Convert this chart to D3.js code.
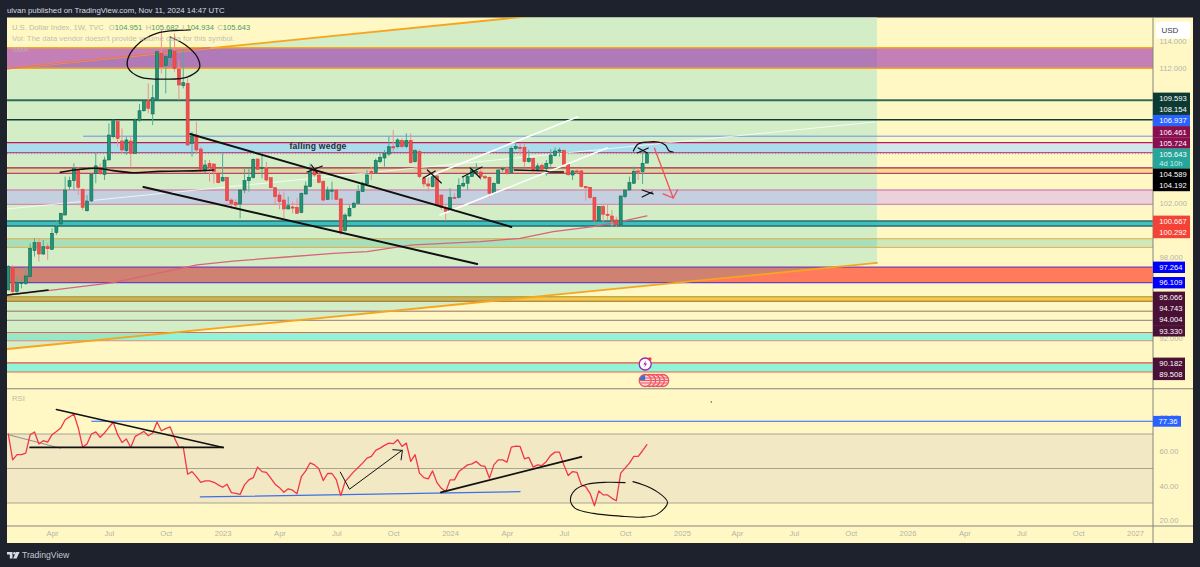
<!DOCTYPE html>
<html>
<head>
<meta charset="utf-8">
<script src="https://d3js.org/d3.v7.min.js"></script>
<style>
    html, body { margin: 0; padding: 0; background: #1e222d; overflow: hidden; }
    svg { display: block; font-family: "Liberation Sans", Arial, sans-serif; }
    .axis path, .axis line { display: none; }
    .axis text { fill: #b4b4a6; font-size: 7.6px; font-family: "Liberation Sans", Arial, sans-serif; }
</style>
</head>
<body>
<svg id="chart" width="1200" height="567"></svg>
<script>
// weekly candles, first bar is the week of 2022-01-24
const firstWeek = Date.UTC(2022, 0, 24);
const opens = [
    95.57,97.25,95.45,96.06,96.06,96.56,98.48,99.07,98.23,98.77,
    98.58,99.81,100.45,101.11,103.21,103.65,104.49,103.01,101.43,102.15,
    104.19,104.64,104.12,105.18,106.90,108.01,106.58,105.87,106.58,105.67,
    108.13,108.82,109.56,108.58,109.66,113.06,112.15,112.76,113.23,111.90,
    110.67,110.84,106.41,107.02,105.99,104.44,104.93,104.88,104.19,103.63,
    103.90,102.22,102.03,101.93,102.96,103.65,103.87,105.25,104.56,104.56,
    103.87,103.13,102.59,102.22,101.56,101.71,101.68,101.29,102.67,103.21,
    104.49,104.07,103.58,102.27,102.91,102.96,102.30,99.96,101.04,101.68,
    101.98,102.84,103.41,104.32,104.24,105.05,105.33,105.62,106.16,106.16,
    106.61,106.17,106.61,105.06,105.80,103.83,103.41,103.21,104.00,102.59,
    101.66,101.43,102.42,102.42,103.26,103.46,103.95,104.27,104.29,103.95,
    103.90,102.72,103.46,104.49,104.49,104.24,106.04,106.12,106.12,105.06,
    105.30,104.44,104.79,104.56,104.93,105.50,105.87,105.87,104.86,104.07,
    104.37,104.37,103.21,103.16,102.40,100.70,101.73,101.17,101.04,100.75,
    100.38,102.47,102.96,103.46,104.37,104.32,104.951
];
const highs = [
    97.42,97.42,96.56,96.43,97.30,99.02,99.39,99.39,99.27,99.02,
    100.13,100.75,101.24,103.95,103.95,104.93,104.64,103.09,102.59,104.19,
    105.72,104.93,105.43,107.89,108.18,108.01,107.52,106.90,106.90,108.26,
    109.32,109.61,110.84,110.72,113.18,114.78,112.94,114.17,114.54,112.57,
    113.31,111.21,107.27,108.01,106.16,105.18,105.18,104.93,104.32,105.67,
    103.90,102.35,102.27,103.01,104.56,104.56,105.30,105.30,105.55,105.05,
    103.87,103.16,102.84,102.84,102.47,102.10,102.35,102.76,103.58,104.93,
    104.69,104.19,103.70,103.21,103.58,103.01,102.35,101.24,101.85,102.10,
    103.33,103.58,104.44,104.69,105.30,105.67,105.92,106.90,107.40,106.78,
    106.78,107.15,107.15,105.97,105.97,104.00,104.07,104.19,104.19,102.59,
    101.90,103.09,102.72,103.83,103.95,104.19,104.69,104.93,104.49,104.07,
    103.95,103.51,104.49,104.69,104.74,106.17,106.46,106.41,106.41,105.92,
    105.35,104.93,104.93,105.18,105.97,106.12,106.09,105.97,104.93,104.44,
    104.56,104.44,103.26,103.21,102.47,101.78,101.85,101.85,101.48,100.99,
    102.52,103.01,103.95,104.69,104.60,105.92,105.682
];
const lows = [
    95.57,95.20,95.33,95.69,95.94,96.43,98.04,97.67,98.16,97.79,
    98.53,99.64,100.38,101.11,102.96,102.96,102.59,101.48,101.36,102.10,
    103.46,104.07,103.70,105.18,106.78,106.16,105.67,105.55,104.69,105.67,
    108.01,108.75,108.63,107.76,109.61,111.58,110.10,112.20,111.70,109.61,
    110.47,106.24,105.42,105.67,104.27,104.19,103.58,103.45,103.46,103.58,
    102.10,101.60,101.60,100.87,102.72,102.84,103.82,104.49,103.82,103.58,
    103.08,101.93,101.53,100.87,101.53,101.24,101.19,101.24,102.59,103.16,
    103.95,103.46,102.10,102.22,102.22,102.22,99.64,99.88,100.99,101.61,
    101.93,102.84,103.33,103.70,104.19,104.93,104.69,105.47,105.79,106.04,
    106.04,106.04,104.93,104.98,103.83,103.16,102.84,103.16,101.73,101.48,
    100.70,101.36,102.35,102.35,103.16,102.96,103.95,104.19,103.70,103.75,
    102.42,102.67,103.41,104.32,104.07,104.19,105.92,105.55,104.64,104.98,
    104.19,104.37,104.32,104.02,104.69,105.43,105.43,104.81,104.02,103.70,
    104.14,103.16,102.17,102.27,100.62,100.62,100.62,100.75,100.25,100.25,
    100.33,102.35,102.91,103.41,103.70,103.41,104.934
];
const closes = [
    97.30,95.45,96.11,96.14,96.61,98.65,99.07,98.23,98.77,98.62,
    99.76,100.25,101.24,102.96,103.65,104.56,103.16,101.68,102.15,104.12,
    104.74,104.19,105.18,107.02,108.08,106.78,105.92,106.66,105.67,108.13,
    108.82,109.56,109.00,109.78,113.18,112.07,112.81,113.31,111.95,110.72,
    110.89,106.29,106.95,105.92,104.51,104.81,104.61,104.32,103.50,103.90,
    102.17,101.98,101.85,102.96,103.65,103.90,105.23,104.49,104.64,103.70,
    103.13,102.47,102.10,101.56,101.80,101.66,101.24,102.72,103.26,104.32,
    104.07,103.53,102.22,102.96,102.96,102.27,99.88,101.11,101.61,101.98,
    102.84,103.46,104.07,104.27,105.13,105.38,105.67,106.16,106.09,106.66,
    106.17,106.61,104.98,105.87,103.95,103.41,103.26,104.00,101.85,101.68,
    101.36,102.40,102.37,103.31,103.46,103.95,104.44,104.34,103.95,103.85,
    102.72,103.46,104.44,104.56,104.24,106.04,106.17,106.07,105.06,105.30,
    104.44,104.74,104.49,104.93,105.55,105.84,105.92,104.86,104.09,104.37,
    104.32,103.21,103.13,102.40,100.70,101.73,101.17,101.09,100.70,100.38,
    102.52,102.96,103.51,104.34,104.32,104.93,105.643
];
const rsiValues = [
    70.0,55.0,58.0,58.0,58.9,69.6,71.2,64.2,66.1,65.3,
    69.6,71.5,73.5,78.3,79.9,81.6,73.5,62.4,64.2,70.0,
    71.2,68.1,70.6,73.9,76.8,69.6,65.1,67.1,62.2,68.6,
    70.0,71.5,69.0,70.6,77.0,71.9,73.1,74.1,67.7,62.2,
    62.4,46.7,48.2,45.3,42.0,42.8,42.8,42.0,40.5,39.1,
    40.9,36.0,35.6,35.0,40.5,43.4,44.7,50.8,48.2,47.8,
    44.4,40.9,38.9,36.2,38.2,37.4,35.4,45.3,48.6,53.3,
    52.1,49.8,43.0,47.1,47.1,43.4,34.3,42.4,45.3,48.2,
    50.6,53.1,56.0,57.0,60.5,61.8,63.4,64.7,64.4,66.7,
    62.8,64.7,54.1,58.0,47.3,44.7,44.0,48.6,41.8,38.5,
    36.6,43.4,43.4,48.2,50.2,52.1,52.7,54.1,51.7,51.2,
    44.4,52.1,55.0,55.0,53.7,62.4,63.0,62.8,55.6,56.4,
    50.8,52.1,51.7,54.1,57.6,59.5,59.5,52.1,45.9,48.2,
    47.8,40.5,39.5,35.6,28.4,37.0,34.7,34.7,32.7,31.3,
    47.3,50.2,53.1,57.0,57.0,60.3,63.8
];

// SMA read at a few weeks: [week, price]
const smaPoints = [[-0.2,95.2],[9.1,95.52],[24,96.11],[34,96.8],[43.2,97.42],[51.4,97.71],[62.9,97.99],[74.3,98.28],[82,98.4],[89.6,98.77],[92.6,98.9],[107.9,99.14],[117,99.39],[124.6,99.88],[133.7,100.25],[139.9,100.62],[146,101.04]];

// horizontal zones and levels
const bandTops = [113.48, 106.461, 104.589, 102.96, 100.667, 99.36, 97.264, 95.066, 92.43, 90.182];
const bandBottoms = [111.96, 105.724, 104.192, 101.9, 100.292, 98.72, 96.109, 94.743, 91.82, 89.508];
const levelValues = [109.593, 108.154, 94.004, 93.33];
const blueLevel = 106.937;
const lastPrice = 105.643;

// price tags on the axis
const tagValues = ["109.593","108.154","106.937","106.461","105.724","105.643","4d 10h","104.589","104.192","100.667","100.292","97.264","96.109","95.066","94.743","94.004","93.330","90.182","89.508"];
const priceTicks = [114, 112, 110, 102, 98, 92];
const rsiTicks = [80, 60, 40, 20];
const rsiLevels = [70, 50, 30];
const rsiBlueLevel = 77.36;

const timeTicks = ["2022-04-04","2022-07-04","2022-10-03","2023-01-02","2023-04-03","2023-07-03","2023-10-02","2024-01-01","2024-04-01","2024-07-01","2024-10-07","2025-01-06","2025-04-04","2025-07-04","2025-10-03","2026-01-02","2026-04-03","2026-07-03","2026-10-02","2027-01-01"];
const timeLabels = ["Apr","Jul","Oct","2023","Apr","Jul","Oct","2024","Apr","Jul","Oct","2025","Apr","Jul","Oct","2026","Apr","Jul","Oct","2027"];

// hand drawn stuff, all [week, price]
const channelTop = [[-0.2,111.94],[198.6,118.37]];
const channelBottom = [[-0.2,91.21],[198.6,97.57]];
const channelOverPurple = [[-0.2,111.94],[46,113.48]];
const circleTop = [[41.6,114.79],[34.1,114.56],[30.2,113.9],[27.4,112.72],[27.4,111.98],[30.2,111.31],[36.3,111.16],[40.9,111.31],[43.7,111.98],[43.2,112.79],[40.5,113.68],[37,114.27]];
const wedgeUpper = [[41.6,107.1],[115,100.23]];
const wedgeLower = [[30.9,103.18],[107.2,97.49]];
const wavyLine = [[11.9,104.27],[16.5,104.49],[20.3,104.57],[24,104.39],[28.6,104.24],[34.7,104.34],[43.9,104.39],[46.9,104.44]];
const startLine = [[-0.2,95.2],[9.1,95.57]];
const supportLine = [[115.7,104.44],[122.7,104.37],[123.9,104.29],[126.9,104.29]];
const crosses = [
    [[68.3,104.29],[71.8,104.73]], [[69.3,104.81],[70.6,104.22]],
    [[94.9,103.85],[97.6,104.37]], [[95.8,104.44],[99,103.48]],
    [[103.8,103.92],[108.3,104.66]], [[105.6,104.59],[107.9,103.85]],
    [[143.8,105.7],[146.3,106.07]], [[144,106.07],[146.1,105.7]],
    [[144.9,102.96],[147.4,102.67]], [[144.9,102.44],[147.2,102.81]]
];
const topArc = [[142.9,105.84],[144,106.36],[146.1,106.51],[148.6,106.51],[150.2,106.29],[151.1,105.84],[152,105.77]];
const redArrow = [[147.7,106.06],[152,102.37]];
const redArrowHead = [[149.7,102.67],[152,102.37],[153,102.96]];
const whiteLower = [[98.7,101.11],[136.9,106.07]];
const whiteUpper = [[95.8,103.92],[130.1,108.36]];
const whiteLong = [[-0.2,101.56],[198.2,107.99]];

// same thing for the RSI pane: [week, rsi]
const rsiTriTop = [[11,84.2],[49.1,62.2]];
const rsiTriBottom = [[5,62.2],[49.1,62.2]];
const rsiThin = [[0,69.6],[11.9,61.8]];
const rsiBlueLow = [[43.9,33.5],[117,36.6]];
const rsiArrow = [[75.9,47.9],[78,38],[90,60.5]];
const rsiArrowHead = [[87.9,60.9],[90.1,60.5],[89.8,55]];
const rsiTrend = [[98.9,36.2],[131,56.8]];
const rsiOvalA = [[141,41.8],[136.9,42],[132.3,40.9],[129.6,37.6],[128.5,31.7],[129.6,26.9],[133.8,24],[139.9,22.4],[145.2,21.8],[148.3,23.4],[150.7,30.4],[148.3,36.6],[145.2,40.5],[142.8,42.4]];
const rsiDot = [160.7, 88.6];

const lightningWeek = 145.6;
const flagWeeks = [149.6, 148.6, 147.6, 146.6, 145.6];

// colours and layout
const YELLOW = '#fff8c5';
const CHANNEL = '#d3edc7';
const bandStyles = [
    { out: '#c47fb6', inn: '#b07ab8', top: '#f5a623', bottom: '#f5a623', w: 1.5 },
    { out: '#d2e5ea', inn: '#abdcec', top: '#c2185b', bottom: '#c2478f', w: 1.2 },
    { out: '#f9d98e', inn: '#d8d7a0', top: '#a8234a', bottom: '#c04070', w: 1.2 },
    { out: '#ecd0da', inn: '#c4cfe0', top: '#d08fb0', bottom: '#d08fb0', w: 1.4 },
    { out: '#45bfc2', inn: '#3cbfc0', top: '#2c6e68', bottom: '#2c6e68', w: 1.5 },
    { out: '#d0e8b8', inn: '#a8dfb8', top: '#e0b050', bottom: '#e0b050', w: 1 },
    { out: '#ff7b5c', inn: '#cf8272', top: '#7a3fb0', bottom: '#6a3fc0', w: 1.2 },
    { out: '#f5c84a', inn: '#c9b45c', top: '#a8902a', bottom: '#9c6a2a', w: 1.1 },
    { out: '#90f5d8', inn: '#98e8c8', top: '#f06050', bottom: '#e08a80', w: 1.2 },
    { out: '#90f5d8', inn: '#90f0d0', top: '#f05040', bottom: '#f06050', w: 1.2 }
];
const levelStyles = [
    { color: '#2e6b5a', w: 1.8 }, { color: '#123a30', w: 1.4 },
    { color: '#9a7060', w: 1 }, { color: '#8e7a80', w: 1 }
];
const tagColors = ['#0d3b33','#0d3b33','#2962ff','#880e4f','#880e4f','#26a69a','#26a69a','#000','#000','#f44336','#f44336','#0000ff','#0000ff','#4a1035','#4a1035','#4a1035','#4a1035','#4a1035','#4a1035'];
const tagY = [98.3,109.5,120.6,131.8,143,154.2,163.6,174.3,185.5,221.3,232.5,267.3,282.7,297.3,308.4,319.6,330.8,363.3,374.4];
const paneLeft = 7, paneRight = 1153, chartRight = 1193, paneTop = 17.5, priceBottom = 388.7, rsiBottom = 526, chartBottom = 543;

const svg = d3.select('#chart');
const x = d3.scaleUtc().domain([new Date(Date.UTC(2023, 0, 1)), new Date(Date.UTC(2027, 0, 1))]).range([222, 1135]);
const y = d3.scaleLinear().domain([112, 102]).range([67.7, 203]);
const r = d3.scaleLinear().domain([70, 30]).range([434, 503]);

const weekDate = w => new Date(firstWeek + w * 7 * 864e5);
const wx = w => x(weekDate(w));
const priceLine = d3.line().x(d => wx(d[0])).y(d => y(d[1]));
const rsiLine = d3.line().x(d => wx(d[0])).y(d => r(d[1]));
const penLine = d3.line().x(d => wx(d[0])).y(d => y(d[1])).curve(d3.curveCatmullRom);
const rsiPen = d3.line().x(d => wx(d[0])).y(d => r(d[1])).curve(d3.curveCatmullRom);

svg.append('rect').attr('x', paneLeft).attr('y', paneTop)
    .attr('width', chartRight - paneLeft).attr('height', chartBottom - paneTop).attr('fill', YELLOW);

const channelPoly = channelTop.concat(channelBottom.slice().reverse());
const defs = svg.append('defs');
defs.append('clipPath').attr('id', 'pricePane').append('rect')
    .attr('x', paneLeft).attr('y', paneTop).attr('width', paneRight - paneLeft).attr('height', priceBottom - paneTop);
defs.append('clipPath').attr('id', 'rsiPane').append('rect')
    .attr('x', paneLeft).attr('y', priceBottom).attr('width', paneRight - paneLeft).attr('height', rsiBottom - priceBottom);
defs.append('clipPath').attr('id', 'inChannel').append('path').attr('d', priceLine(channelPoly) + 'Z');

const price = svg.append('g').attr('clip-path', 'url(#pricePane)');
price.append('path').attr('d', priceLine(channelPoly) + 'Z').attr('fill', CHANNEL);

// zones, once plain and once again inside the channel where they look different
const bandRect = (g, key) => g.selectAll('rect').data(bandTops).join('rect')
    .attr('x', paneLeft).attr('width', paneRight - paneLeft)
    .attr('y', d => y(d)).attr('height', (d, i) => y(bandBottoms[i]) - y(d))
    .attr('fill', (d, i) => bandStyles[i][key]);
bandRect(price.append('g'), 'out');
bandRect(price.append('g').attr('clip-path', 'url(#inChannel)'), 'inn');

const hLine = (g, value, color, w) => g.append('line')
    .attr('x1', paneLeft).attr('x2', paneRight).attr('y1', y(value)).attr('y2', y(value))
    .attr('stroke', color).attr('stroke-width', w);
bandTops.forEach((v, i) => {
    hLine(price, v, bandStyles[i].top, bandStyles[i].w);
    hLine(price, bandBottoms[i], bandStyles[i].bottom, bandStyles[i].w);
});
levelValues.forEach((v, i) => hLine(price, v, levelStyles[i].color, levelStyles[i].w));
price.append('line').attr('x1', wx(17.1)).attr('x2', paneRight).attr('y1', y(blueLevel)).attr('y2', y(blueLevel))
    .attr('stroke', '#6f8ff0').attr('stroke-width', 1);
hLine(price, lastPrice, '#26a69a', 1).attr('stroke-dasharray', '1 2').attr('opacity', 0.7);

const stroke = (g, line, pts, color, w) => g.append('path').attr('d', line(pts))
    .attr('fill', 'none').attr('stroke', color).attr('stroke-width', w)
    .attr('stroke-linecap', 'round').attr('stroke-linejoin', 'round');

stroke(price, priceLine, channelTop, '#f7a51f', 1.8);
stroke(price, priceLine, channelBottom, '#f7a51f', 1.8);
stroke(price, priceLine, channelOverPurple, '#dc7480', 1.6);
stroke(price, priceLine, whiteLong, 'rgba(255,255,255,0.75)', 1);
stroke(price, priceLine, smaPoints, '#d9637a', 1.3);

// candles
const candles = opens.map((o, i) => ({ i, o, h: highs[i], l: lows[i], c: closes[i] }));
const up = d => d.c >= d.o;
price.append('g').selectAll('line').data(candles).join('line')
    .attr('x1', d => wx(d.i)).attr('x2', d => wx(d.i))
    .attr('y1', d => y(d.h)).attr('y2', d => y(d.l))
    .attr('stroke', d => up(d) ? '#4fae95' : '#ef9090').attr('stroke-width', 1);
price.append('g').selectAll('rect').data(candles).join('rect')
    .attr('x', d => wx(d.i) - 1.5).attr('width', 3)
    .attr('y', d => y(Math.max(d.o, d.c)))
    .attr('height', d => Math.max(1.2, Math.abs(y(d.o) - y(d.c))))
    .attr('fill', d => up(d) ? '#1f9478' : '#ef4e4e')
    .attr('stroke', d => up(d) ? '#17694f' : '#de3f3f').attr('stroke-width', 0.6);

// drawings
stroke(price, priceLine, whiteUpper, '#fff', 1.6);
stroke(price, priceLine, whiteLower, '#fff', 1.6);
stroke(price, penLine, circleTop, '#111', 1.3);
stroke(price, priceLine, wedgeUpper, '#111', 2);
stroke(price, priceLine, wedgeLower, '#111', 2);
stroke(price, penLine, wavyLine, '#111', 1.6);
stroke(price, priceLine, startLine, '#111', 1.5);
stroke(price, priceLine, supportLine, '#111', 1.3);
crosses.forEach(c => stroke(price, priceLine, c, '#111', 1.2));
stroke(price, penLine, topArc, '#111', 1.2);
stroke(price, priceLine, redArrow, '#ef5350', 1.3);
stroke(price, priceLine, redArrowHead, '#ef5350', 1.3);

price.append('text').attr('x', wx(64.3)).attr('y', y(105.96)).text('falling wedge')
    .attr('font-size', 8.6).attr('font-weight', 'bold').attr('letter-spacing', 0.2).attr('fill', '#2a2e39');

// event icons
const bolt = price.append('g').attr('transform', `translate(${wx(lightningWeek)},364)`);
bolt.append('circle').attr('r', 6).attr('fill', '#fff').attr('stroke', '#9c27b0').attr('stroke-width', 1.3);
bolt.append('path').attr('d', 'M1,-3.5L-2,0.5H0L-1,3.5L2,-0.5H0Z').attr('fill', '#9c27b0');
bolt.append('circle').attr('cx', 4.6).attr('cy', -5).attr('r', 1.8).attr('fill', '#f23645');

const flags = price.append('g').selectAll('g').data(flagWeeks).join('g')
    .attr('transform', d => `translate(${wx(d)},380.5)`);
flags.append('circle').attr('r', 6).attr('fill', '#fbd7d7').attr('stroke', '#ee5562').attr('stroke-width', 1.3);
flags.append('path').attr('d', 'M-5,-2.5H5M-5.5,0H5.5M-5,2.5H5').attr('stroke', '#ee5562').attr('stroke-width', 1.2);
flags.filter((d, i) => i === flagWeeks.length - 1).append('path')
    .attr('d', 'M-5.2,-2.2A5.6,5.6 0 0 1 0,-5.6V-0.6H-5.6Z').attr('fill', '#3f6fd0');

// RSI pane
const rsiG = svg.append('g').attr('clip-path', 'url(#rsiPane)');
rsiG.append('rect').attr('x', paneLeft).attr('width', paneRight - paneLeft)
    .attr('y', r(70)).attr('height', r(30) - r(70)).attr('fill', '#f3e8c4');
rsiG.selectAll('.lvl').data(rsiLevels).join('line').attr('class', 'lvl')
    .attr('x1', paneLeft).attr('x2', paneRight).attr('y1', d => r(d)).attr('y2', d => r(d))
    .attr('stroke', '#a7a492').attr('stroke-width', 1);
rsiG.append('line').attr('x1', wx(19)).attr('x2', paneRight)
    .attr('y1', r(rsiBlueLevel)).attr('y2', r(rsiBlueLevel)).attr('stroke', '#2962ff').attr('stroke-width', 1.1);
stroke(rsiG, rsiLine, rsiThin, '#777', 0.8);
stroke(rsiG, rsiLine, rsiBlueLow, '#3d6fe8', 1.2);
stroke(rsiG, rsiLine, rsiValues.map((v, i) => [i, v]), '#f23645', 1.3);
stroke(rsiG, rsiLine, rsiTriTop, '#111', 1.6);
stroke(rsiG, rsiLine, rsiTriBottom, '#111', 1.8);
stroke(rsiG, rsiLine, rsiArrow, '#111', 1);
stroke(rsiG, rsiLine, rsiArrowHead, '#111', 1);
stroke(rsiG, rsiLine, rsiTrend, '#111', 1.8);
stroke(rsiG, rsiPen, rsiOvalA, '#111', 1.1);
rsiG.append('circle').attr('cx', wx(rsiDot[0])).attr('cy', r(rsiDot[1])).attr('r', 0.6).attr('fill', '#111');

// separators
const rule = (x1, y1, x2, y2, w) => svg.append('line').attr('x1', x1).attr('y1', y1).attr('x2', x2).attr('y2', y2)
    .attr('stroke', '#85847a').attr('stroke-width', w);
rule(paneLeft, priceBottom, chartRight, priceBottom, 1.1);
rule(paneLeft, rsiBottom, chartRight, rsiBottom, 1.1);
rule(paneRight, paneTop, paneRight, chartBottom, 1);

// axes
const axisY = d3.axisRight(y).tickValues(priceTicks).tickFormat(d3.format('.3f')).tickSize(0).tickPadding(6.5);
svg.append('g').attr('class', 'axis').attr('transform', `translate(${paneRight},0)`).call(axisY);
const axisR = d3.axisRight(r).tickValues(rsiTicks).tickFormat(d3.format('.2f')).tickSize(0).tickPadding(6.5);
svg.append('g').attr('class', 'axis').attr('transform', `translate(${paneRight},0)`).call(axisR);
const tickDates = timeTicks.map(s => new Date(s + 'T00:00:00Z'));
const axisX = d3.axisBottom(x).tickValues(tickDates).tickFormat((d, i) => timeLabels[i]).tickSize(0).tickPadding(5);
svg.append('g').attr('class', 'axis').attr('transform', `translate(0,${rsiBottom})`).call(axisX);

// price tags
const rowH = 11.2;
const tags = svg.append('g').selectAll('g').data(tagValues).join('g')
    .attr('transform', (d, i) => `translate(${paneRight},${tagY[i]})`);
tags.append('rect').attr('x', 0).attr('y', -rowH / 2 - 0.1)
    .attr('width', (d, i) => (i >= 11 ? 32 : 37)).attr('height', (d, i) => (i === 5 || i === 6) ? 11 : rowH + 0.2)
    .attr('fill', (d, i) => tagColors[i]);
tags.append('text').attr('x', 6.3).attr('dy', '0.36em').text(d => d)
    .attr('fill', (d, i) => i === 6 ? '#c8efe8' : '#fff').attr('font-size', 7.6);

const rsiTag = svg.append('g').attr('transform', `translate(${paneRight},${r(rsiBlueLevel)})`);
rsiTag.append('rect').attr('y', -5.4).attr('width', 28).attr('height', 10.8).attr('fill', '#2962ff');
rsiTag.append('text').attr('x', 5.5).attr('dy', '0.36em').attr('fill', '#fff').attr('font-size', 7.6).text('77.36');

// USD button
const usd = svg.append('g').attr('transform', 'translate(1156,21.5)');
usd.append('rect').attr('width', 34.5).attr('height', 17).attr('rx', 2).attr('fill', '#fff');
usd.append('text').attr('x', 5.5).attr('y', 11).attr('font-size', 8).attr('fill', '#363a45').text('USD');

// header and legend
svg.append('text').attr('x', 7).attr('y', 12.5).attr('font-size', 7.85).attr('fill', '#d8dbe3')
    .text('ulvan published on TradingView.com, Nov 11, 2024 14:47 UTC');

const legend = svg.append('text').attr('x', 12).attr('y', 30).attr('font-size', 7.6).attr('fill', '#bdbda6');
legend.append('tspan').text('U.S. Dollar Index, 1W, TVC');
[['O', opens], ['H', highs], ['L', lows], ['C', closes]].forEach((e, i) => {
    legend.append('tspan').attr('dx', i === 0 ? 5 : 3.5).text(e[0]);
    legend.append('tspan').attr('fill', '#4c9a6a').text(d3.format('.3f')(e[1][e[1].length - 1]));
});
svg.append('text').attr('x', 12).attr('y', 41).attr('font-size', 7.7).attr('fill', '#c2c2ac')
    .text("Vol: The data vendor doesn't provide volume data for this symbol.");
svg.append('text').attr('x', 12).attr('y', 52).attr('font-size', 7.7).attr('fill', '#c2a8b8').text('SMA');
svg.append('text').attr('x', 12).attr('y', 401).attr('font-size', 7.7).attr('fill', '#bdbda6').text('RSI');

// footer logo
const logo = svg.append('g').attr('transform', 'translate(7,552)').attr('fill', '#d8dbe3');
logo.append('path').attr('d', 'M0,0H5.5V6.5H2.8V2.5H0Z');
logo.append('circle').attr('cx', 7.4).attr('cy', 1.3).attr('r', 1.3);
logo.append('path').attr('d', 'M9,0H12.6L9.6,6.5H6.2Z');
svg.append('text').attr('x', 22).attr('y', 558.3).attr('font-size', 8.6).attr('fill', '#c4c7d0').text('TradingView');
</script>
</body>
</html>
